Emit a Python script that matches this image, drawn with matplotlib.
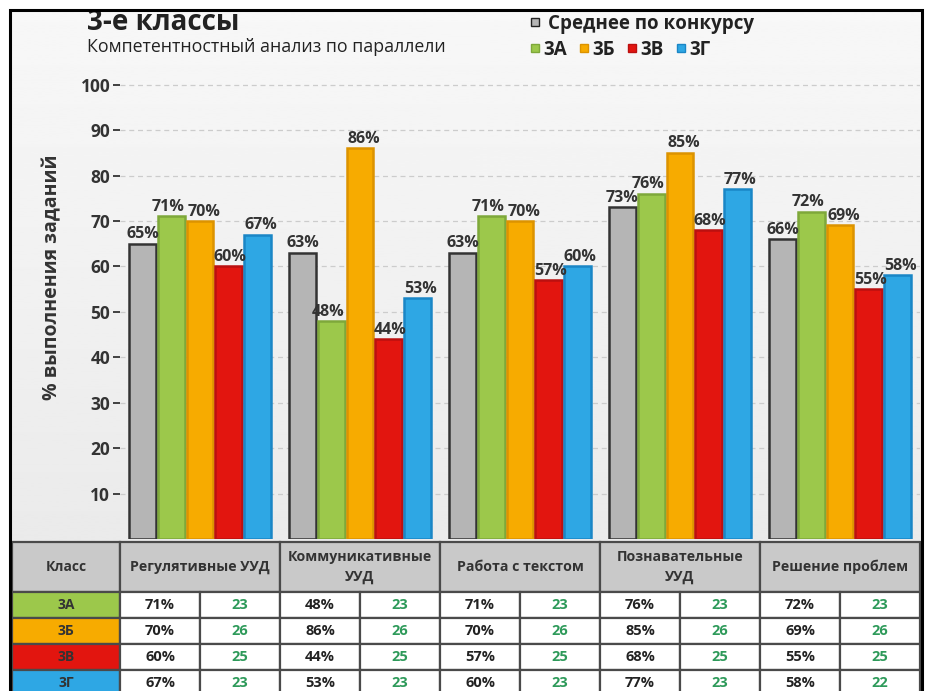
import numpy as np
import matplotlib
matplotlib.use('Agg')
import matplotlib.pyplot as plt
from matplotlib.patches import Rectangle
from matplotlib.lines import Line2D

plt.rcParams['font.family'] = ['Open Sans', 'DejaVu Sans']

# data
categories = ['Регулятивные УУД', 'Коммуникативные\nУУД', 'Работа с текстом',
              'Познавательные\nУУД', 'Решение проблем']
series_names = ['Среднее по конкурсу', '3А', '3Б', '3В', '3Г']
avg_vals = [65, 63, 63, 73, 66]
vals_3a = [71, 48, 71, 76, 72]
vals_3b = [70, 86, 70, 85, 69]
vals_3v = [60, 44, 57, 68, 55]
vals_3g = [67, 53, 60, 77, 58]
count_3a = [23, 23, 23, 23, 23]
count_3b = [26, 26, 26, 26, 26]
count_3v = [25, 25, 25, 25, 25]
count_3g = [23, 23, 23, 23, 22]
yticks = [10, 20, 30, 40, 50, 60, 70, 80, 90, 100]

colors = ['#b5b5b5', '#9cc84b', '#f7ab00', '#e2150f', '#2ea7e4']
edges = ['#333333', '#7ea83a', '#dc9300', '#bb1010', '#1a86c6']
label_dx = [0, -2, 3, 1, 2]  # small nudges so neighbouring labels don't collide

W, H = 926, 691
fig = plt.figure(figsize=(W / 100, H / 100), dpi=100)
fig.patch.set_facecolor('white')


def px(x0, y0, x1, y1):
    # pixel box (top-left origin) -> figure fraction rect
    return [x0 / W, 1 - y1 / H, (x1 - x0) / W, (y1 - y0) / H]


# background gradient inside the frame
bg = fig.add_axes(px(10, 10, 922, 691), zorder=-10)
grad = np.linspace(0.97, 0.905, 256).reshape(-1, 1)
bg.imshow(grad, aspect='auto', cmap='gray', vmin=0, vmax=1, extent=[0, 1, 0, 1])
bg.axis('off')

# frame
fig.add_artist(Rectangle((10 / W, -0.02), 912 / W, 1.02 - 10 / H,
                         transform=fig.transFigure, fill=False,
                         edgecolor='black', linewidth=2.2, zorder=20))

# chart
ax = fig.add_axes(px(120, 71, 920, 539))
ax.set_facecolor('none')
x = np.arange(len(categories))
width = 0.18
all_vals = [avg_vals, vals_3a, vals_3b, vals_3v, vals_3g]
for k, vals in enumerate(all_vals):
    pos = x + (k - 2) * width
    bars = ax.bar(pos, vals, width * 0.93, color=colors[k], edgecolor=edges[k],
                  linewidth=1.8, zorder=3)
    for b, v in zip(bars, vals):
        ax.annotate(f'{v}%', (b.get_x() + b.get_width() / 2, v),
                    xytext=(label_dx[k], 1), textcoords='offset points',
                    ha='center', va='bottom', fontsize=11.5,
                    fontweight='bold', color='#333333', zorder=5)

ax.set_xlim(-0.5, 4.5)
ax.set_ylim(0, 103)
ax.set_yticks(yticks)
ax.set_xticks([])
for s in ax.spines.values():
    s.set_visible(False)
ax.tick_params(axis='y', length=5, width=1.3, color='#333333', pad=2,
               labelsize=12.5, labelcolor='#333333')
for lab in ax.get_yticklabels():
    lab.set_fontweight('bold')
ax.yaxis.grid(True, linestyle=(0, (4, 3)), color='#cccccc', linewidth=0.9, zorder=0)
ax.set_axisbelow(True)
ax.set_ylabel('% выполнения заданий', fontsize=14, fontweight='bold',
              color='#333333')
ax.yaxis.set_label_coords(-0.072, 0.56)

# titles
fig.text(87 / W, 1 - 23 / H, '3-е классы', fontsize=20, fontweight='bold',
         color='#222222', va='center')
fig.text(87 / W, 1 - 47 / H, 'Компетентностный анализ по параллели',
         fontsize=12.8, color='#222222', va='center')

# legends
h_avg = [Line2D([], [], marker='s', linestyle='', markersize=6,
                markerfacecolor=colors[0], markeredgecolor='#222222')]
leg1 = fig.legend(h_avg, series_names[:1], loc='center left',
                  bbox_to_anchor=(520 / W, 1 - 24 / H), frameon=False,
                  borderpad=0, handlelength=0.6, handletextpad=0.4,
                  prop={'weight': 'bold', 'size': 13.5})
h_cls = [Line2D([], [], marker='s', linestyle='', markersize=6,
                markerfacecolor=colors[k], markeredgecolor=edges[k])
         for k in range(1, 5)]
leg2 = fig.legend(h_cls, series_names[1:], loc='center left',
                  bbox_to_anchor=(520 / W, 1 - 50 / H), frameon=False, ncol=4,
                  borderpad=0, handlelength=0.6, handletextpad=0.15,
                  columnspacing=0.6, prop={'weight': 'bold', 'size': 13.5})
for t in leg1.get_texts() + leg2.get_texts():
    t.set_color('#222222')

# table
tab = fig.add_axes(px(12, 542, 920, 696))
head_h = 50 / 26
n_rows = 4
kl_w = 108 / 160
tab.set_xlim(-0.5 - kl_w, 4.5)
tab.set_ylim(head_h + n_rows, 0)
tab.axis('off')

ec = '#4a4a4a'
lw = 1.6
head_bg = '#c9c9c9'


def cell(x0, y0, w, h, fc):
    tab.add_patch(Rectangle((x0, y0), w, h, facecolor=fc, edgecolor=ec,
                            linewidth=lw, clip_on=False))


cell(-0.5 - kl_w, 0, kl_w, head_h, head_bg)
tab.text(-0.5 - kl_w / 2, head_h / 2, 'Класс', ha='center', va='center',
         fontsize=10, fontweight='bold', color='#333333')
for i, c in enumerate(categories):
    cell(i - 0.5, 0, 1, head_h, head_bg)
    tab.text(i, head_h / 2, c, ha='center', va='center', fontsize=10.2,
             fontweight='bold', color='#333333', linespacing=1.5)

row_vals = [vals_3a, vals_3b, vals_3v, vals_3g]
row_counts = [count_3a, count_3b, count_3v, count_3g]
for r in range(n_rows):
    y0 = head_h + r
    cell(-0.5 - kl_w, y0, kl_w, 1, colors[r + 1])
    tab.text(-0.5 - kl_w / 2, y0 + 0.5, series_names[r + 1], ha='center',
             va='center', fontsize=10, fontweight='bold', color='#333333')
    for i in range(len(categories)):
        cell(i - 0.5, y0, 0.5, 1, 'white')
        cell(i, y0, 0.5, 1, 'white')
        tab.text(i - 0.25, y0 + 0.5, f'{row_vals[r][i]}%', ha='center',
                 va='center', fontsize=10.5, fontweight='bold', color='#222222')
        tab.text(i + 0.25, y0 + 0.5, f'{row_counts[r][i]}', ha='center',
                 va='center', fontsize=10.5, fontweight='bold', color='#2e9a5a')

fig.savefig('out.png', dpi=100)
